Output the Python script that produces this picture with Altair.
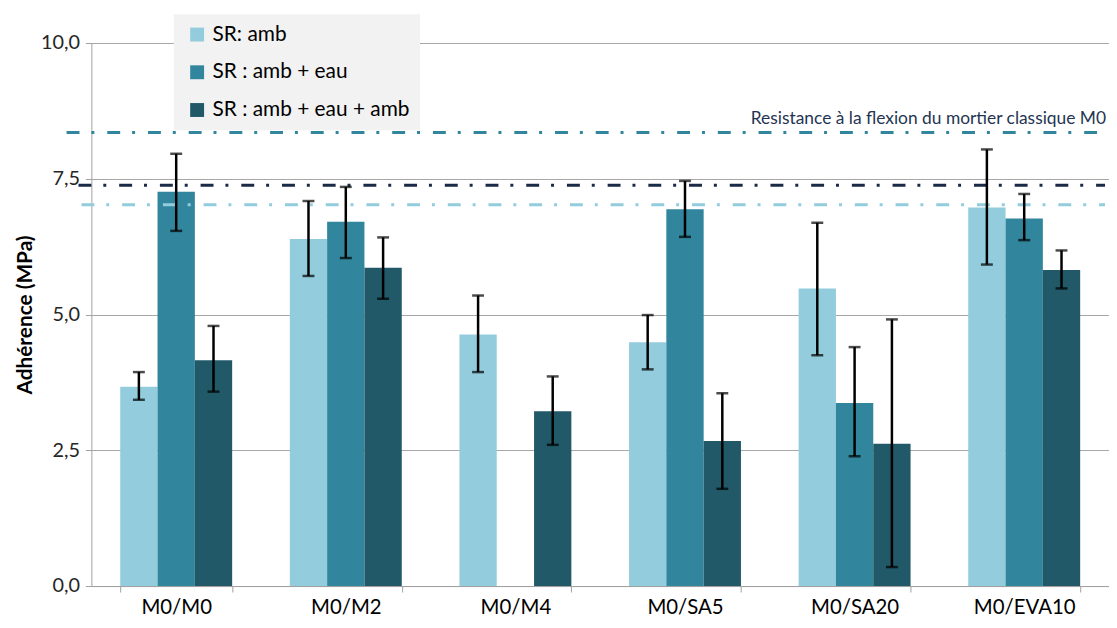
import altair as alt
import pandas as pd

categories = ["M0/M0", "M0/M2", "M0/M4", "M0/SA5", "M0/SA20", "M0/EVA10"]
series = ["SR: amb", "SR : amb + eau", "SR : amb + eau + amb"]

amb = [3.67, 6.39, 4.63, 4.49, 5.48, 6.97]
amb_lo = [3.43, 5.71, 3.94, 3.99, 4.25, 5.92]
amb_hi = [3.94, 7.09, 5.35, 4.99, 6.69, 8.04]

eau = [7.26, 6.71, None, 6.94, 3.37, 6.77]
eau_lo = [6.54, 6.04, None, 6.43, 2.39, 6.37]
eau_hi = [7.96, 7.35, None, 7.46, 4.40, 7.22]

eau_amb = [4.16, 5.86, 3.22, 2.67, 2.62, 5.82]
eau_amb_lo = [3.58, 5.29, 2.60, 1.79, 0.35, 5.48]
eau_amb_hi = [4.79, 6.42, 3.86, 3.55, 4.91, 6.18]

ref_levels = [8.35, 7.38, 7.02]
ref_label = "Resistance à la flexion du mortier classique M0"

colors = ["#93CDDD", "#31859C", "#215968"]
ref_colors = ["#31859C", "#1B2A47", "#93CDDD"]
FONT = "Lato"

rows = []
for s, vals, los, his in [
    (series[0], amb, amb_lo, amb_hi),
    (series[1], eau, eau_lo, eau_hi),
    (series[2], eau_amb, eau_amb_lo, eau_amb_hi),
]:
    for c, v, lo, hi in zip(categories, vals, los, his):
        if v is None:
            continue
        rows.append({"cat": c, "series": s, "value": v, "lo": lo, "hi": hi})
df = pd.DataFrame(rows)

caps = pd.concat([
    df[["cat", "series"]].assign(bound=df["lo"]),
    df[["cat", "series"]].assign(bound=df["hi"]),
])

x_enc = alt.X(
    "cat:N",
    sort=categories,
    scale=alt.Scale(paddingInner=0.34, paddingOuter=0.17),
    axis=alt.Axis(
        title=None, labelAngle=0, labelFontSize=20.5, labelColor="#000000",
        labelFont=FONT, tickBand="extent", tickColor="#A0A0A0", tickSize=6,
        domainColor="#A0A0A0", labelPadding=6, grid=False,
    ),
)
xo_enc = alt.XOffset("series:N", sort=series)

bars = alt.Chart(df).mark_bar().encode(
    x=x_enc,
    xOffset=xo_enc,
    y=alt.Y(
        "value:Q",
        scale=alt.Scale(domain=[0, 10]),
        axis=alt.Axis(
            values=[0, 2.5, 5, 7.5, 10],
            labelExpr="replace(format(datum.value, '.1f'), '.', ',')",
            title="Adhérence (MPa)", titleFont=FONT, titleFontSize=21,
            titleFontWeight="bold", titleColor="#000000", titlePadding=5,
            labelFont=FONT, labelFontSize=20, labelColor="#262626",
            gridColor="#A6A6A6", tickColor="#A0A0A0", tickSize=6,
            domainColor="#A0A0A0", labelPadding=6,
        ),
    ),
    color=alt.Color(
        "series:N",
        sort=series,
        scale=alt.Scale(domain=series, range=colors),
        legend=alt.Legend(
            title=None, orient="none", legendX=83, legendY=-29,
            fillColor="#F2F2F2", padding=10, rowPadding=16,
            symbolType="square", symbolSize=196, symbolStrokeWidth=0,
            labelFont=FONT, labelFontSize=21, labelColor="#000000",
            labelOffset=5, labelLimit=0, symbolOpacity=1, symbolOffset=3,
        ),
    ),
)

err = alt.Chart(df).mark_rule(color="#000000", strokeWidth=2.5).encode(
    x=alt.X("cat:N", sort=categories),
    xOffset=xo_enc,
    y="lo:Q",
    y2="hi:Q",
)

cap = alt.Chart(caps).mark_tick(color="#000000", thickness=2.5, size=12).encode(
    x=alt.X("cat:N", sort=categories),
    xOffset=xo_enc,
    y="bound:Q",
)

ref_layers = []
starts = [-25, -13, -10]
for lvl, col, st in zip(ref_levels, ref_colors, starts):
    ref_layers.append(
        alt.Chart(pd.DataFrame({"y": [lvl]})).mark_rule(
            color=col, strokeWidth=3, strokeDash=[13, 12, 3, 13]
        ).encode(y="y:Q", x=alt.value(st), x2=alt.value(1021))
    )

ref_text = alt.Chart(pd.DataFrame({"y": [ref_levels[0]], "t": [ref_label]})).mark_text(
    align="right", baseline="bottom", dy=-5, font=FONT, fontSize=17.5, color="#1F3553"
).encode(y="y:Q", x=alt.value(1022), text="t:N")

chart = alt.layer(bars, *ref_layers, err, cap, ref_text).properties(
    width=1025,
    height=547,
    padding={"left": 84, "top": 33, "right": 0, "bottom": 38},
    autosize=alt.AutoSizeParams(type="none"),
).configure_view(stroke=None).configure_axis(gridWidth=1)

chart.save("out.html", embed_options={"renderer": "svg", "actions": False})
